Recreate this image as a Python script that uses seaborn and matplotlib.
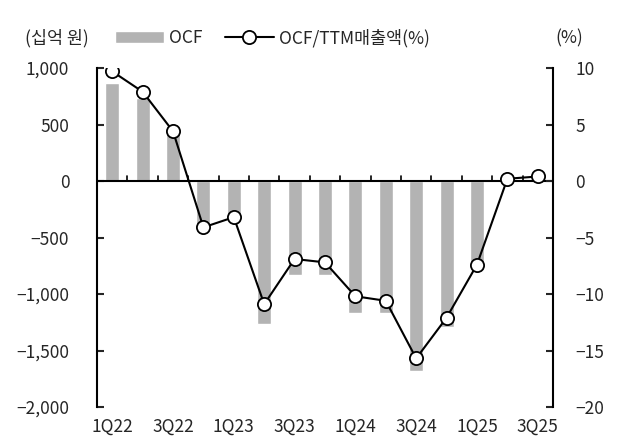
import numpy as np
import pandas as pd
import seaborn as sns
import matplotlib.pyplot as plt
from matplotlib.ticker import FuncFormatter, FixedLocator

quarters = ['1Q22', '2Q22', '3Q22', '4Q22', '1Q23', '2Q23', '3Q23', '4Q23',
            '1Q24', '2Q24', '3Q24', '4Q24', '1Q25', '2Q25', '3Q25']
# 영업활동현금흐름 (십억 원)
ocf = [870, 735, 440, -420, -350, -1265, -830, -830,
       -1170, -1170, -1680, -1290, -720, 5, 20]
# OCF / TTM 매출액 (%)
ocf_ratio = [9.7, 7.9, 4.4, -4.1, -3.2, -10.9, -6.9, -7.2,
             -10.2, -10.6, -15.7, -12.1, -7.4, 0.2, 0.4]
tick_labels = ['1Q22', '3Q22', '1Q23', '3Q23', '1Q24', '3Q24', '1Q25', '3Q25']

sns.set_style('white')
plt.rcParams['font.family'] = ['Noto Sans CJK KR', 'DejaVu Sans']
plt.rcParams['axes.unicode_minus'] = True

df = pd.DataFrame({'quarter': quarters, 'ocf': ocf, 'ratio': ocf_ratio,
                   'pos': np.arange(len(quarters))})

fig = plt.figure(figsize=(6.22, 4.46), dpi=100)
ax = fig.add_axes([0.156, 0.0874, 0.733, 0.7601])

sns.barplot(data=df, x='quarter', y='ocf', ax=ax, color='#b3b3b3',
            saturation=1, width=0.46, label='OCF')
if ax.get_legend() is not None:
    ax.get_legend().remove()
ax.set_xlim(-0.5, len(quarters) - 0.5)
ax.set_ylim(-2000, 1000)
ax.set_yticks(np.arange(-2000, 1001, 500))
ax.yaxis.set_major_formatter(FuncFormatter(lambda v, p: f'{v:,.0f}'.replace('-', '\u2212')))

# zero line with small ticks at quarter boundaries
ax.axhline(0, color='black', lw=1.5, zorder=3)
for b in np.arange(0.5, len(quarters) - 0.5, 1):
    ax.plot([b, b], [0, 45], color='black', lw=1.2, zorder=3)

ax.xaxis.set_major_locator(FixedLocator([quarters.index(t) for t in tick_labels]))
ax.set_xticklabels(tick_labels)
ax.tick_params(axis='x', length=0, pad=8, labelsize=12.5)
ax.tick_params(axis='y', direction='in', length=5, width=1.5, pad=20,
               labelsize=12.5, left=True)
ax.set_xlabel('')
ax.set_ylabel('')
for s in ['top', 'bottom', 'right']:
    ax.spines[s].set_visible(False)
ax.spines['left'].set_linewidth(1.5)
ax.spines['left'].set_color('black')

ax2 = ax.twinx()
sns.lineplot(data=df, x='pos', y='ratio', ax=ax2, color='black', lw=1.5,
             marker='o', markersize=9.5, markerfacecolor='white',
             markeredgecolor='black', markeredgewidth=1.3,
             label='OCF/TTM매출액(%)', legend=False)
ax2.set_xlim(-0.5, len(quarters) - 0.5)
ax2.set_ylim(-20, 10)
ax2.set_yticks(np.arange(-20, 11, 5))
ax2.yaxis.set_major_formatter(FuncFormatter(lambda v, p: f'{v:.0f}'.replace('-', '\u2212')))
ax2.tick_params(axis='y', direction='in', length=5, width=1.5, pad=16,
                labelsize=12.5, right=True)
ax2.set_ylabel('')
for s in ['top', 'bottom', 'left']:
    ax2.spines[s].set_visible(False)
ax2.spines['right'].set_linewidth(1.5)
ax2.spines['right'].set_color('black')

h1, l1 = ax.get_legend_handles_labels()
h2, l2 = ax2.get_legend_handles_labels()
fig.legend(h1 + h2, l1 + l2, loc='center left', bbox_to_anchor=(0.185, 0.915),
           ncol=2, frameon=False, fontsize=12.5, handlelength=2.8,
           handletextpad=0.3, columnspacing=1.3, borderpad=0, borderaxespad=0)

fig.text(25 / 622, 0.915, '(십억 원)', fontsize=12.5, va='center', ha='left')
fig.text(555 / 622, 0.915, '(%)', fontsize=12.5, va='center', ha='left')

fig.savefig('out.png', dpi=100)
